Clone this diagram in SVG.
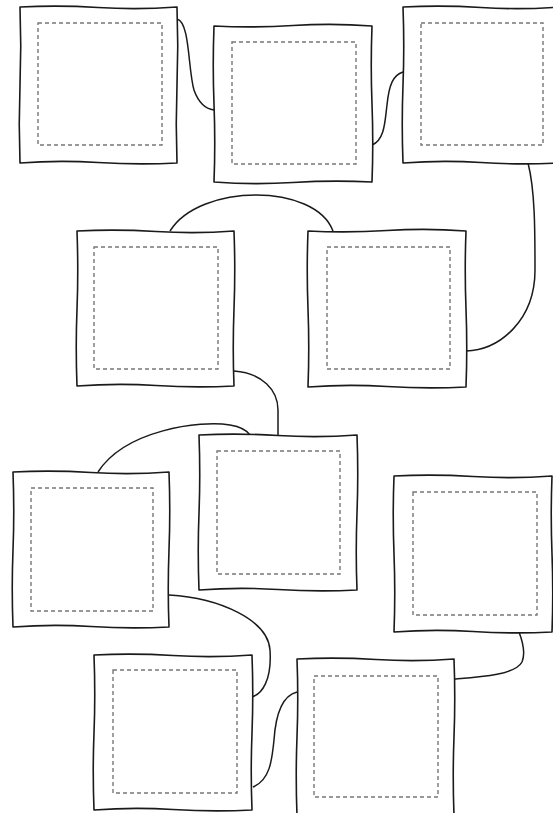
<svg xmlns="http://www.w3.org/2000/svg" width="553" height="813" viewBox="0 0 553 813">
<style>
.outer{fill:#fff;stroke:#1a1a1a;stroke-width:1.6;stroke-linejoin:round}
.inner{fill:none;stroke:#777;stroke-width:1.4;stroke-dasharray:4 3}
.conn{fill:none;stroke:#1a1a1a;stroke-width:1.5}
</style>
<rect width="553" height="813" fill="#fff"/>
<g id="connectors">
<path class="conn" d="M177,19 C190,22 188,70 194,90 C199,104 206,109 214,110"/>
<path class="conn" d="M372,145 C385,140 385,120 387,105 C389,85 393,75 403,72"/>
<path class="conn" d="M528,163 C535,190 535,230 535,270 C535,320 500,350 466,351"/>
<path class="conn" d="M170,231 C200,183 315,183 333,231"/>
<path class="conn" d="M234,371 C262,373 278,390 278,410 L278,435"/>
<path class="conn" d="M98,472 C125,430 200,420 230,425 C242,427 248,432 250,435"/>
<path class="conn" d="M169,595 C220,598 268,620 270,650 C272,680 262,694 252,697"/>
<path class="conn" d="M253,787 C270,780 272,760 274,740 C276,710 285,695 297,692"/>
<path class="conn" d="M519,632 C524,645 525,655 522,662 C515,675 480,677 454,679"/>
</g>
<g id="node1">
<path class="outer" d="M20,7 Q59,5 98,7.5 T177,7 Q178.5,46 177,85 T177,163 Q138,165 98,162.5 T20,163 Q18.5,124 20,85 T20,7 Z"/>
<rect class="inner" x="38" y="23" width="124" height="122"/>
</g>
<g id="node2">
<path class="outer" d="M214,26 Q253,28 293,25.5 T372,26 Q370.5,65 372,104 T372,182 Q333,180 293,182.5 T214,182 Q215.5,143 214,104 T214,26 Z"/>
<rect class="inner" x="232" y="42" width="124" height="122"/>
</g>
<g id="node3">
<path class="outer" d="M403,7 Q442,5 481,7.5 T559,7 L559,163 Q520,165 481,162.5 T403,163 Q401.5,124 403,85 T403,7 Z"/>
<rect class="inner" x="421" y="23" width="122" height="122"/>
</g>
<g id="node4">
<path class="outer" d="M77,231 Q116,229 156,231.5 T234,231 Q235.5,270 234,309 T234,386 Q195,388 156,385.5 T77,386 Q75.5,347 77,309 T77,231 Z"/>
<rect class="inner" x="94" y="247" width="124" height="122"/>
</g>
<g id="node5">
<path class="outer" d="M308,231 Q347,233 387,230.5 T466,231 Q464.5,270 466,309 T466,387 Q427,389 387,386.5 T308,387 Q309.5,348 308,309 T308,231 Z"/>
<rect class="inner" x="327" y="247" width="123" height="122"/>
</g>
<g id="node6">
<path class="outer" d="M199,435 Q238,433 278,435.5 T357,435 Q358.5,474 357,513 T357,590 Q318,592 278,589.5 T199,590 Q197.5,551 199,513 T199,435 Z"/>
<rect class="inner" x="217" y="451" width="123" height="123"/>
</g>
<g id="node7">
<path class="outer" d="M13,472 Q52,470 91,472.5 T169,472 Q170.5,511 169,550 T169,627 Q130,629 91,626.5 T13,627 Q11.5,588 13,550 T13,472 Z"/>
<rect class="inner" x="31" y="488" width="122" height="123"/>
</g>
<g id="node8">
<path class="outer" d="M394,476 Q433,474 473,476.5 T552,476 Q550.5,515 552,554 T552,632 Q513,634 473,631.5 T394,632 Q395.5,593 394,554 T394,476 Z"/>
<rect class="inner" x="413" y="492" width="124" height="123"/>
</g>
<g id="node9">
<path class="outer" d="M94,655 Q133,653 173,655.5 T252,655 Q253.5,694 252,733 T252,810 Q213,812 173,809.5 T94,810 Q92.5,771 94,733 T94,655 Z"/>
<rect class="inner" x="113" y="670" width="124" height="123"/>
</g>
<g id="node10">
<path class="outer" d="M297,659 Q336,657 376,659.5 T454,659 Q455.5,698 454,737 T454,815 L297,815 Q295.5,776 297,737 T297,659 Z"/>
<rect class="inner" x="314" y="676" width="124" height="121"/>
</g>
</svg>
